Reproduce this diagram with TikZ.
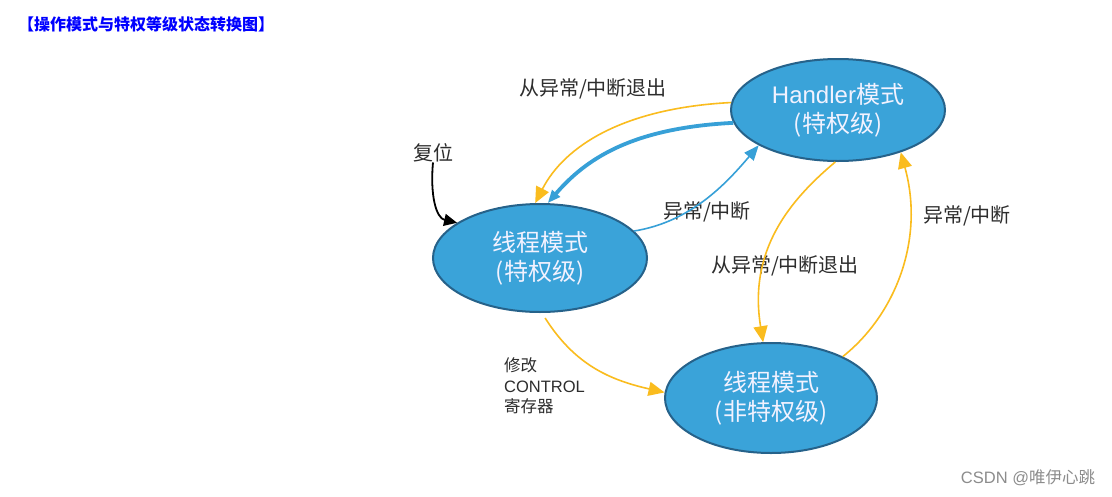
\documentclass[tikz,border=0pt]{standalone}
\usepackage{fontspec}
\setmainfont{Noto Sans CJK SC}
\newfontfamily\arial{Liberation Sans}
\usetikzlibrary{shapes.geometric,arrows.meta}
\definecolor{nodefill}{RGB}{58,163,217}
\definecolor{nodeborder}{RGB}{38,98,138}
\definecolor{arrowyellow}{RGB}{250,188,30}
\definecolor{arrowblue}{RGB}{55,160,215}
\definecolor{labelgray}{RGB}{45,45,45}
\definecolor{titleblue}{RGB}{0,0,255}
\tikzset{
  state/.style={ellipse, draw=nodeborder, line width=2pt, fill=nodefill,
    minimum width=214pt, minimum height=108pt, inner sep=0pt,
    text=white!95!blue, font=\fontsize{24}{29}\selectfont, align=center},
  lbl/.style={text=labelgray, font=\fontsize{20}{22}\selectfont, inner sep=0pt},
  yarrow/.style={draw=arrowyellow, line width=1.6pt,
    -{Triangle[length=16pt,width=14pt]}},
  barrowthick/.style={draw=arrowblue, line width=3.8pt,
    -{Triangle[length=13pt,width=10pt]}},
  barrowthin/.style={draw=arrowblue, line width=1.6pt,
    -{Triangle[length=15pt,width=12pt]}},
  karrow/.style={draw=black, line width=1.8pt,
    -{Triangle[length=13pt,width=12pt]}}
}
\begin{document}
\begin{tikzpicture}[x=1pt,y=-1pt]
\useasboundingbox[fill=white] (0,0) rectangle (1112,496);

\node[text=titleblue, font=\bfseries\fontsize{16}{18}\selectfont, anchor=west, inner sep=0pt] (title) at (18,24) {【操作模式与特权等级状态转换图】};

\node[state, minimum width=214pt, minimum height=102pt] (h) at (838,110) {{\arial Handler}模式\\(特权级)};
\node[state] (t) at (540,258) {线程模式\\(特权级)};
\node[state, minimum width=212pt, minimum height=110pt] (u) at (771,398) {线程模式\\(非特权级)};

\node[lbl] (l1) at (593,89) {从异常/中断退出};
\node[lbl] (reset) at (433,153) {复位};
\node[lbl] (l2) at (707,212) {异常/中断};
\node[lbl] (l3) at (785,266) {从异常/中断退出};
\node[lbl] (l4) at (967,216) {异常/中断};
\node[text=labelgray, font=\fontsize{16.5}{20.5}\selectfont, align=left, anchor=west, inner sep=0pt] (l5) at (504,386) {修改\\{\arial CONTROL}\\寄存器};

\node[text=gray!90, font=\fontsize{16.5}{18}\selectfont, inner sep=0pt] (wm) at (1028,478) {{\arial CSDN @}唯伊心跳};

% Handler -> thread (privileged), exception return
\draw[yarrow] (h.176) .. controls (625,108) and (565,145) .. (t.95);
\draw[barrowthick] (h.187) .. controls (630,128) and (585,160) .. (t.82);
% thread -> Handler, exception
\draw[barrowthin] (t.16) .. controls (690,222) and (725,185) .. (h.204);
% reset
\draw[karrow] (reset.south) .. controls (430,195) and (436,218) .. (t.157);
% Handler -> unprivileged, exception return
\draw[yarrow] (h.267) .. controls (790,200) and (748,250) .. (u.98);
% unprivileged -> Handler, exception
\draw[yarrow] (u.30) .. controls (895,315) and (925,240) .. (h.326);
% thread priv -> unprivileged
\draw[yarrow, shorten <=6pt] (t.272) .. controls (575,365) and (610,380) .. (u.177);
\end{tikzpicture}
\end{document}
